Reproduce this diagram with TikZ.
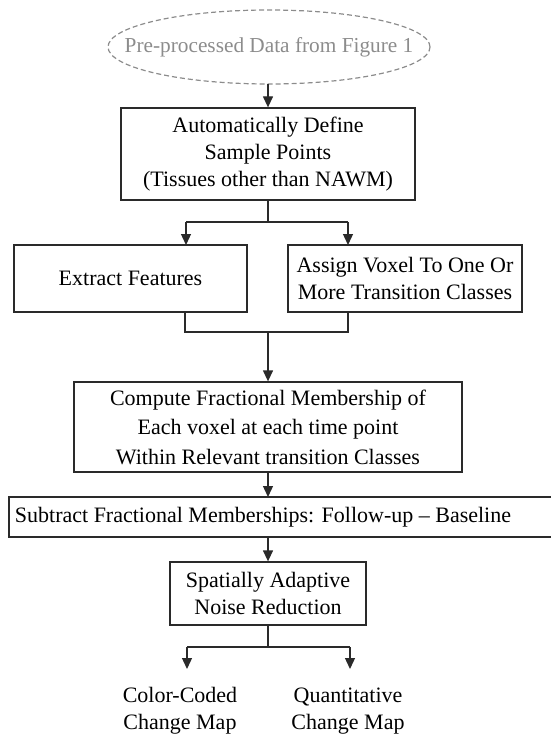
\documentclass[tikz,border=0pt]{standalone}
\usepackage{fontspec}
\setmainfont{Liberation Serif}
\usetikzlibrary{shapes.geometric,arrows.meta}
\definecolor{ink}{HTML}{2A2A2A}
\definecolor{ghost}{HTML}{8C8C8C}
\tikzset{
  box/.style={draw=ink, line width=1.3pt, rectangle, inner sep=0pt, align=center, font=\fontsize{22}{27}\selectfont, text=black},
  lbl/.style={inner sep=0pt, align=center, font=\fontsize{22}{27}\selectfont, text=black},
  conn/.style={draw=ink, line width=1.3pt},
  arr/.style={conn, -{Triangle[length=11pt,width=10pt]}},
}
\begin{document}
\begin{tikzpicture}[x=1pt,y=-1pt]
\useasboundingbox (0,0) rectangle (550,735);
\node[inner sep=0pt, text=ghost, font=\fontsize{21.3}{27}\selectfont] (pre) at (269,47) {Pre-processed Data from Figure 1};
\draw[draw=ghost, dash pattern=on 5pt off 3pt, line width=1.2pt] (pre.center) ellipse [x radius=161pt, y radius=37pt];
\node[box, minimum width=294pt, minimum height=92pt] (def) at (268,154) {Automatically Define\\Sample Points\\(Tissues other than NAWM)};
\node[box, minimum width=233pt, minimum height=67pt] (ext) at (130.5,278.5) {Extract Features};
\node[box, minimum width=234pt, minimum height=67pt] (asg) at (405,278.5) {Assign Voxel To One Or\\More Transition Classes};
\node[box, minimum width=388pt, minimum height=90pt, font=\fontsize{22}{29.5}\selectfont] (cmp) at (268,427) {Compute Fractional Membership of\\Each voxel at each time point\\Within Relevant transition Classes};
\node[box, minimum width=544pt, minimum height=40pt] (sub) at (281,517) {};
\node[lbl] (subt) at (263,517) {Subtract Fractional Memberships: Follow-up -- Baseline};
\node[box, minimum width=196pt, minimum height=63pt] (spa) at (268,593.5) {Spatially Adaptive\\Noise Reduction};
\node[lbl] (col) at (180,711) {Color-Coded\\Change Map};
\node[lbl] (qua) at (348,711) {Quantitative\\Change Map};
\coordinate (j1) at (268,222);
\coordinate (j1l) at (186,222);
\coordinate (j1r) at (348,222);
\coordinate (e1) at (186,245);
\coordinate (e2) at (348,245);
\coordinate (b1) at (185,312);
\coordinate (b2) at (348,312);
\coordinate (m1) at (185,332);
\coordinate (m2) at (348,332);
\coordinate (mm) at (268,332);
\coordinate (k) at (268,647);
\coordinate (kl) at (187,647);
\coordinate (kr) at (350,647);
\coordinate (t1) at (187,669);
\coordinate (t2) at (350,669);
\draw[arr] (268,84) -- (def.north);
\draw[conn] (def.south) -- (j1);
\draw[conn] (j1l) -- (j1r);
\draw[arr] (j1l) -- (e1);
\draw[arr] (j1r) -- (e2);
\draw[conn] (b1) -- (m1) -- (m2) -- (b2);
\draw[arr] (mm) -- (cmp.north);
\draw[arr] (cmp.south) -- (268,497);
\draw[arr] (268,537) -- (spa.north);
\draw[conn] (spa.south) -- (k);
\draw[conn] (kl) -- (kr);
\draw[arr] (kl) -- (t1);
\draw[arr] (kr) -- (t2);
\end{tikzpicture}
\end{document}
